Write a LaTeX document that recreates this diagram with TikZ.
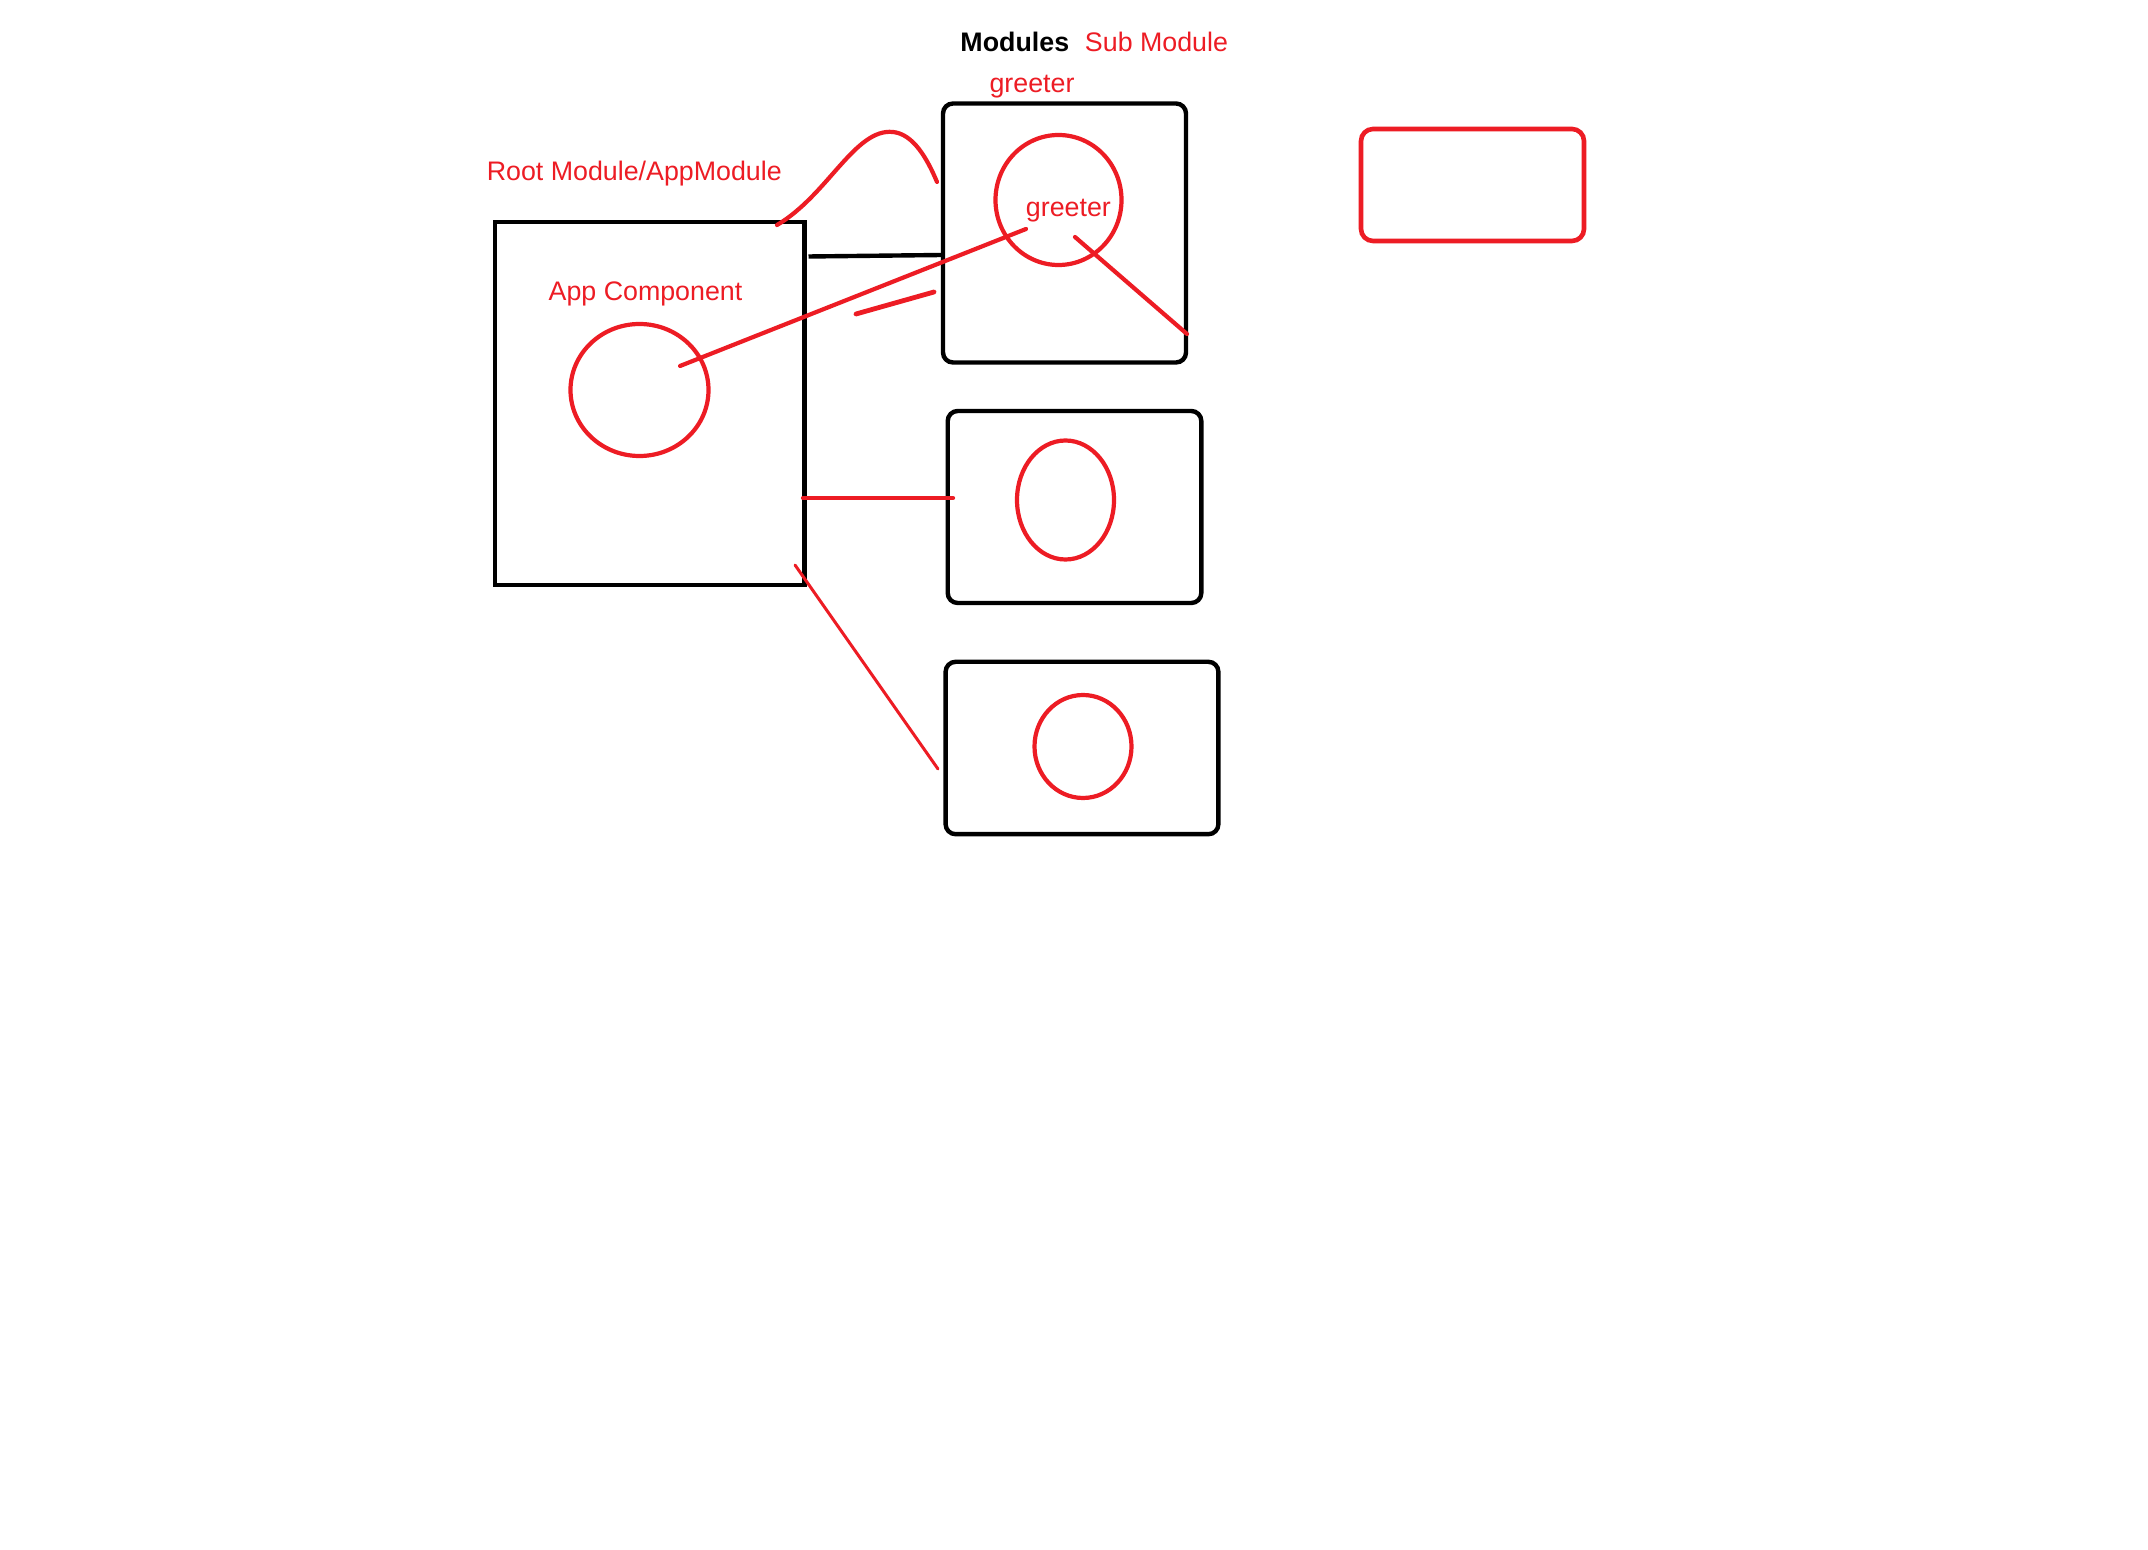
\documentclass[tikz,border=0pt]{standalone}
\usepackage{fontspec}
\setmainfont{Liberation Sans}
\usetikzlibrary{shapes.geometric}
\definecolor{paintred}{HTML}{ED1C24}
\begin{document}
\begin{tikzpicture}[x=0.5pt,y=-0.5pt,
  module/.style={draw=black,line width=2.2pt,rounded corners=5pt,inner sep=0pt},
  rootbox/.style={draw=black,line width=2.2pt,inner sep=0pt},
  spare/.style={draw=paintred,line width=2.3pt,rounded corners=6pt,inner sep=0pt},
  comp/.style={ellipse,draw=paintred,line width=2.1pt,inner sep=0pt},
  redlink/.style={draw=paintred,line width=2.1pt,line cap=round},
  blacklink/.style={draw=black,line width=2.2pt},
  txt/.style={text=paintred,font=\fontsize{13.4pt}{16pt}\selectfont,anchor=base,inner sep=0pt},
]
\useasboundingbox[fill=white] (0,0) rectangle (2148,1550);

% module boxes
\node[rootbox,minimum width=154.8pt,minimum height=181.5pt] (root) at (649.5,403.5) {};
\node[module,minimum width=121.5pt,minimum height=129.5pt] (greetmod) at (1064.5,233) {};
\node[module,minimum width=126.8pt,minimum height=96pt] (modb) at (1074.5,507) {};
\node[module,minimum width=136.4pt,minimum height=86.2pt] (modc) at (1082,748) {};
\node[spare,minimum width=111.5pt,minimum height=56pt] (spare) at (1472.5,185) {};

% components
\node[comp,minimum width=69pt,minimum height=66pt] (appcomp) at (639.5,390) {};
\node[comp,minimum width=63pt,minimum height=65pt] (greetcomp) at (1058.5,200) {};
\node[comp,minimum width=48.5pt,minimum height=59.5pt] (compb) at (1065.5,500) {};
\node[comp,minimum width=48.5pt,minimum height=51.5pt] (compc) at (1083,746.5) {};

% texts
\node[txt,text=black,font=\fontsize{13.4pt}{16pt}\selectfont\bfseries] (modtitle) at (1014.8,51.7) {Modules};
\node[txt] (subtitle) at (1156.5,51.7) {Sub Module};
\node[txt] (greettitle) at (1032,92.5) {greeter};
\node[txt] (roottitle) at (634.3,181) {Root Module/AppModule};
\node[txt] (apptitle) at (645.5,300.5) {App Component};
\node[txt] (greetname) at (1068.4,216.7) {greeter};

% connector end points
\coordinate (rootA) at (808.5,256.5);
\coordinate (gmA) at (942,255);
\coordinate (curveS) at (777,225);
\coordinate (curveP) at (893,132);
\coordinate (curveE) at (937,182);
\coordinate (appA) at (680,366);
\coordinate (greetA) at (1026,229);
\coordinate (shortS) at (856,314);
\coordinate (shortE) at (934,292);
\coordinate (greetB) at (1075,237);
\coordinate (gmB) at (1187,334);
\coordinate (rootB) at (803,498);
\coordinate (modbA) at (953,498);
\coordinate (rootC) at (795,565);
\coordinate (modcA) at (938,769);

% connectors
\draw[blacklink] (rootA) -- (gmA);
\draw[redlink] (curveS) .. controls (828,195) and (855,128) .. (curveP)
  .. controls (913,134) and (927,158) .. (curveE);
\draw[redlink] (appA) -- (greetA);
\draw[redlink,line width=2.4pt] (shortS) -- (shortE);
\draw[redlink] (greetB) -- (gmB);
\draw[redlink] (rootB) -- (modbA);
\draw[redlink,line width=1.5pt] (rootC) -- (modcA);
\end{tikzpicture}
\end{document}
